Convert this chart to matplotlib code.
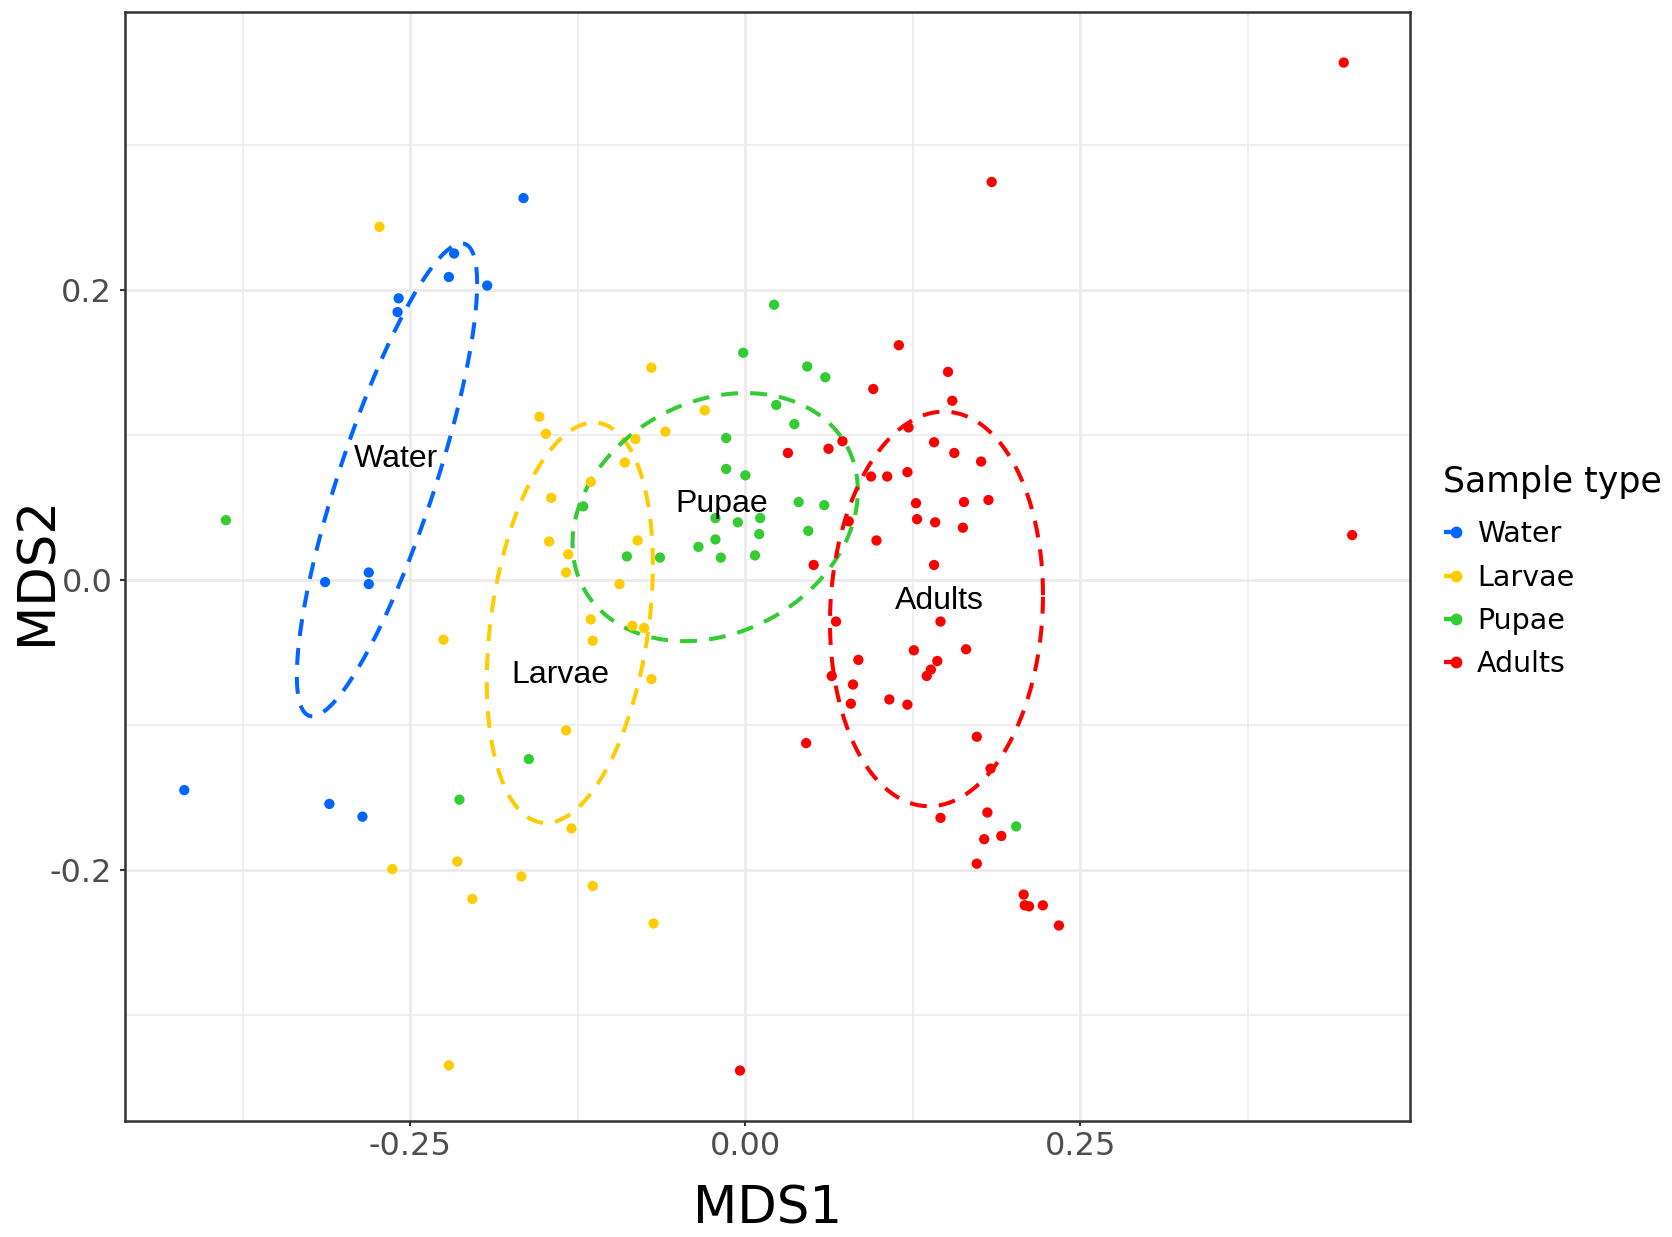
import numpy as np
import matplotlib
matplotlib.use("Agg")
import matplotlib.pyplot as plt
from matplotlib.lines import Line2D

# ---------------- data ----------------
groups = ["Water", "Larvae", "Pupae", "Adults"]
colors = ["#0066FF", "#FFCC00", "#33CC33", "#FF0000"]

water_x = [-0.1656, -0.2174, -0.2213, -0.1927, -0.2588, -0.2596, -0.3137, -0.2811, -0.2811, -0.4188, -0.3105, -0.2858]
water_y = [0.2632, 0.2250, 0.2088, 0.2029, 0.1941, 0.1846, -0.0015, 0.0051, -0.0029, -0.1449, -0.1544, -0.1632]

larvae_x = [-0.2731, -0.0701, -0.1537, -0.1489, -0.0303, -0.0597, -0.0820, -0.0900, -0.1154, -0.1449,
            -0.1465, -0.0804, -0.1322, -0.1338, -0.0939, -0.1154, -0.0844, -0.0756, -0.2253, -0.1139,
            -0.0701, -0.1338, -0.1298, -0.2635, -0.2150, -0.2038, -0.1672, -0.1139, -0.0685, -0.2213]
larvae_y = [0.2434, 0.1463, 0.1125, 0.1007, 0.1169, 0.1022, 0.0971, 0.0809, 0.0676, 0.0566,
            0.0265, 0.0272, 0.0176, 0.0051, -0.0029, -0.0272, -0.0316, -0.0331, -0.0412, -0.0419,
            -0.0684, -0.1037, -0.1713, -0.1993, -0.1941, -0.2199, -0.2044, -0.2110, -0.2368, -0.3346]

pupae_x = [-0.3877, 0.0215, -0.0016, 0.0462, 0.0597, 0.0231, 0.0366, -0.0143, -0.0143, 0.0000,
           -0.1210, 0.0398, 0.0589, -0.0223, -0.0056, 0.0111, 0.0104, 0.0470, -0.0223, -0.0350,
           -0.0884, -0.0637, -0.0183, 0.0072, -0.1616, -0.2134, 0.2022]
pupae_y = [0.0412, 0.1897, 0.1566, 0.1471, 0.1397, 0.1206, 0.1074, 0.0978, 0.0765, 0.0721,
           0.0507, 0.0537, 0.0515, 0.0426, 0.0397, 0.0426, 0.0316, 0.0338, 0.0279, 0.0228,
           0.0162, 0.0154, 0.0154, 0.0169, -0.1235, -0.1515, -0.1699]

adults_x = [0.4467, 0.1839, 0.4530, -0.0040, 0.1146, 0.1513, 0.0955, 0.1545, 0.1218, 0.0318,
            0.0621, 0.0725, 0.1409, 0.1560, 0.1760, 0.0939, 0.1059, 0.1210, 0.1274, 0.1632,
            0.1815, 0.1282, 0.1417, 0.1624, 0.0772, 0.0979, 0.0510, 0.1409, 0.0677, 0.1457,
            0.0844, 0.1258, 0.1433, 0.1648, 0.1385, 0.1354, 0.0645, 0.0804, 0.0788, 0.1075,
            0.1210, 0.0454, 0.1728, 0.1831, 0.1457, 0.1807, 0.1783, 0.1911, 0.1728, 0.2078,
            0.2086, 0.2118, 0.2221, 0.2341]
adults_y = [0.3566, 0.2743, 0.0309, -0.3382, 0.1618, 0.1434, 0.1316, 0.1235, 0.1051, 0.0875,
            0.0904, 0.0956, 0.0949, 0.0875, 0.0816, 0.0713, 0.0713, 0.0743, 0.0529, 0.0537,
            0.0551, 0.0419, 0.0397, 0.0360, 0.0404, 0.0272, 0.0103, 0.0103, -0.0287, -0.0287,
            -0.0551, -0.0485, -0.0559, -0.0478, -0.0618, -0.0662, -0.0662, -0.0721, -0.0853, -0.0824,
            -0.0860, -0.1125, -0.1081, -0.1301, -0.1640, -0.1603, -0.1787, -0.1765, -0.1956, -0.2169,
            -0.2243, -0.2250, -0.2243, -0.2382]

xs = [water_x, larvae_x, pupae_x, adults_x]
ys = [water_y, larvae_y, pupae_y, adults_y]

# ellipse shapes: centre, half-width, half-height, correlation
ell_cx = [-0.2675, -0.1310, -0.0225, 0.1427]
ell_cy = [0.0690, -0.0295, 0.0433, -0.0200]
ell_hx = [0.0673, 0.0620, 0.1065, 0.0795]
ell_hy = [0.1630, 0.1380, 0.0855, 0.1360]
ell_r = [0.828, 0.289, 0.213, 0.07]

# text labels
label_x = [-0.2611, -0.1377, -0.0175, 0.1449]
label_y = [0.0831, -0.0654, 0.0522, -0.0147]

x_ticks = [-0.25, 0.0, 0.25]
x_ticklabels = ["-0.25", "0.00", "0.25"]
y_ticks = [-0.2, 0.0, 0.2]
y_ticklabels = ["-0.2", "0.0", "0.2"]
x_minor = [-0.375, -0.125, 0.125, 0.375]
y_minor = [-0.3, -0.1, 0.1, 0.3]

# ---------------- figure ----------------
plt.rcParams['font.family'] = ['DejaVu Sans']
fig = plt.figure(figsize=(16.72, 12.37), dpi=100)
ax = fig.add_axes([0.0749, 0.0935, 0.7685, 0.8966])

for xv in x_minor:
    ax.axvline(xv, color="#EBEBEB", lw=1.1, zorder=0)
for yv in y_minor:
    ax.axhline(yv, color="#EBEBEB", lw=1.1, zorder=0)
for xv in x_ticks:
    ax.axvline(xv, color="#EBEBEB", lw=2.0, zorder=0)
for yv in y_ticks:
    ax.axhline(yv, color="#EBEBEB", lw=2.0, zorder=0)

t = np.linspace(0, 2 * np.pi, 300)
for i, g in enumerate(groups):
    ax.scatter(xs[i], ys[i], s=55, color=colors[i], edgecolors='none', zorder=3)
    hx, hy, r = ell_hx[i], ell_hy[i], ell_r[i]
    ex = ell_cx[i] + hx * np.cos(t)
    ey = ell_cy[i] + r * hy * np.cos(t) + hy * np.sqrt(1 - r ** 2) * np.sin(t)
    ax.plot(ex, ey, color=colors[i], lw=2.9, dashes=(4.2, 3.0), zorder=2)
    ax.text(label_x[i], label_y[i], g, ha='center', va='center', fontsize=23,
            family=['Liberation Sans', 'DejaVu Sans'], color='black', zorder=4)

ax.set_xlim(-0.4629, 0.4963)
ax.set_ylim(-0.3732, 0.3913)
ax.set_xticks(x_ticks)
ax.set_xticklabels(x_ticklabels)
ax.set_yticks(y_ticks)
ax.set_yticklabels(y_ticklabels)
ax.tick_params(axis='both', labelsize=23, labelcolor='#4D4D4D', color='#333333',
               length=2.75 * 1.39, width=1.5)
ax.tick_params(axis='x', pad=3)
ax.tick_params(axis='y', pad=5.5)
for sp in ax.spines.values():
    sp.set_color('#333333')
    sp.set_linewidth(1.8)

ax.set_xlabel("MDS1", fontsize=37)
ax.xaxis.set_label_coords(0.5, -0.0573)
ax.set_ylabel("MDS2", fontsize=37)
ax.yaxis.set_label_coords(-0.049, 0.497)

# legend
fig.text(0.8629, 0.6104, "Sample type", fontsize=25, ha='left', va='center', color='black')
handles = [Line2D([0], [0], color=c, lw=3.1, linestyle=(0, (2.8, 10)), marker='o',
                  markersize=8.5, markeredgewidth=0) for c in colors]
leg = fig.legend(handles, groups, loc='center left', bbox_to_anchor=(0.8636, 0.5155),
                 frameon=False, fontsize=20.5, handlelength=0.843, handletextpad=0.32,
                 labelspacing=0.54, borderpad=0, borderaxespad=0)

fig.savefig("out.png", dpi=100)
